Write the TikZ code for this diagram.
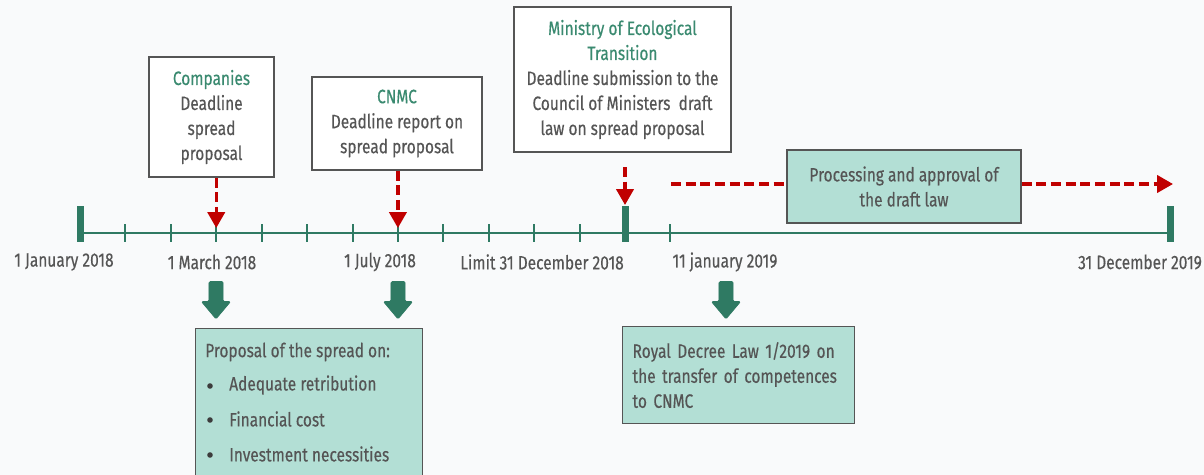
\documentclass[tikz,border=0pt]{standalone}
\usepackage{fontspec}
\setmainfont[FakeStretch=0.8,FakeBold=0.4]{Fira Sans}
\usetikzlibrary{arrows.meta,shapes.arrows,calc}
\definecolor{tgreen}{HTML}{2F7A63}
\definecolor{hgreen}{HTML}{3A8A70}
\definecolor{tgrey}{HTML}{555555}
\definecolor{bfill}{HTML}{B3DFD5}
\definecolor{rred}{HTML}{C00000}
\definecolor{bgc}{HTML}{F9FAFB}
\begin{document}
\begin{tikzpicture}[x=0.75pt,y=-0.75pt,
  every node/.style={font=\fontsize{14.5}{18.75}\selectfont, text=tgrey},
  wbox/.style={draw=tgrey, line width=0.9pt, fill=white, align=center, inner sep=0pt},
  gbox/.style={draw=tgrey, line width=0.9pt, fill=bfill, inner sep=0pt},
  rdash/.style={draw=rred, line width=2.4pt, dash pattern=on 7.5pt off 3.5pt},
  rtip/.style={-{Triangle[width=13pt,length=12pt]}},
  tline/.style={draw=tgreen, line width=1.8pt},
  tickmark/.style={draw=tgreen, line width=1.5pt},
  garrow/.style={single arrow, fill=tgreen, draw=tgreen, line width=0.6pt, rounded corners=1pt, rotate=-90, minimum width=21.75pt,
    minimum height=28pt, single arrow head extend=5.6pt, single arrow tip angle=80, inner sep=5pt},
  bullet/.style={circle, fill=tgrey!70!black, inner sep=0pt, minimum size=4.2pt},
  lbl/.style={inner sep=0pt}
]
\useasboundingbox (0,0) rectangle (1204,475);
\fill[bgc] (0,0) rectangle (1204,475);
\clip (0,0) rectangle (1204,475);

% timeline
\foreach \i in {0,...,24} \coordinate (t\i) at ({80+\i*45.417},233);
\draw[tline] (t0) -- (t24);
\foreach \i in {1,...,11,13,...,23} \draw[tickmark] ($(t\i)+(0,-9)$) -- ($(t\i)+(0,9)$);
\foreach \i in {0,12,24} \fill[tgreen] ($(t\i)+(-3.5,-27)$) rectangle ($(t\i)+(3.5,9)$);

% upper boxes
\node[wbox, minimum width=93.75pt, minimum height=90pt] (comp) at (211.5,117)
  {\textcolor{hgreen}{Companies}\\Deadline\\spread\\proposal};
\node[wbox, minimum width=127.5pt, minimum height=69.75pt] (cnmc) at (397,123.5)
  {\textcolor{hgreen}{CNMC}\\Deadline report on\\spread proposal};
\node[wbox, minimum width=162.75pt, minimum height=108.75pt] (mini) at (622.5,79.5)
  {\textcolor{hgreen}{Ministry of Ecological}\\\textcolor{hgreen}{Transition}\\Deadline submission to the\\Council of Ministers\ \ draft\\law on spread proposal};
\node[gbox, align=center, minimum width=175.5pt, minimum height=54.75pt] (proc) at (904,186.5)
  {Processing and approval of\\the draft law};

% red arrows
\draw[rdash, rtip] (comp.south -| t3) -- ($(t3)+(0,-5)$);
\draw[rdash, rtip] (cnmc.south -| t7) -- ($(t7)+(0,-5)$);
\coordinate (ms) at ($(t12)+(0,-66)$);
\draw[rdash, rtip] (ms) -- ($(t12)+(0,-28)$);
\coordinate (hs) at (671,184);
\coordinate (he) at (1173,184);
\draw[rdash] (hs) -- (hs -| proc.west);
\draw[rdash, rtip] (proc.east |- hs) -- (he);

% date labels
\node[lbl] (l1) at (64,262) {1 January 2018};
\node[lbl] (l2) at (212,262) {1 March 2018};
\node[lbl] (l3) at (380,262) {1 July 2018};
\node[lbl] (l4) at (542,262) {Limit 31 December 2018};
\node[lbl] (l5) at (725,262) {11 january 2019};
\node[lbl] (l6) at (1140,262) {31 December 2019};

% green arrows
\node[garrow] (g1) at (216,296) {};
\node[garrow] (g2) at (398,296) {};
\node[garrow] (g3) at (726,296) {};

% lower boxes
\node[gbox, anchor=north west, minimum width=170.25pt, minimum height=150pt] (prop) at (195,328) {};
\node[lbl, anchor=west] (p0) at (205,352) {Proposal of the spread on:};
\node[bullet] (b1) at (210,386) {};
\node[bullet] (b2) at (210,420) {};
\node[bullet] (b3) at (210,455) {};
\node[lbl, anchor=west] (p1) at (229,385) {Adequate retribution};
\node[lbl, anchor=west] (p2) at (229,419) {Financial cost};
\node[lbl, anchor=west] (p3) at (229,454) {Investment necessities};

\node[gbox, anchor=north west, minimum width=174pt, minimum height=72.75pt, text width=159pt,
  inner xsep=7.5pt, align=left] (rd) at (622,326)
  {Royal Decree Law 1/2019 on\\the transfer of competences\\to CNMC};
\end{tikzpicture}
\end{document}
